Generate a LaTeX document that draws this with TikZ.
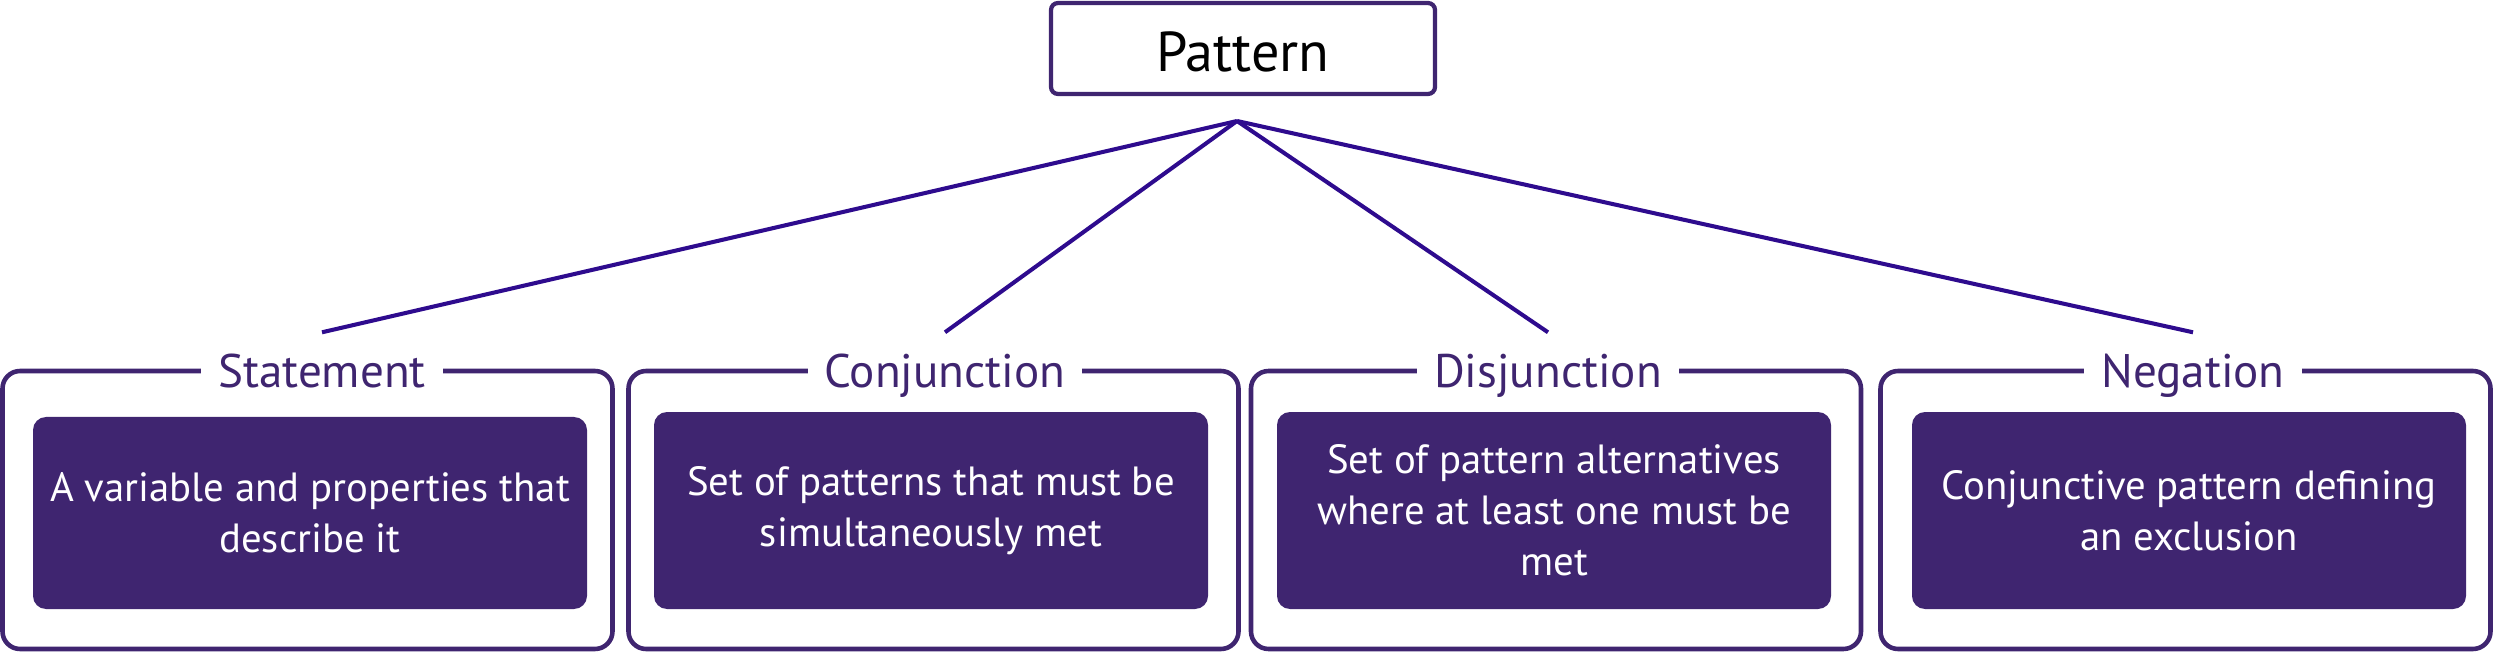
\documentclass[tikz,border=0pt]{standalone}
\usepackage{fontspec}
\setmainfont{PT Sans}
\usepackage{tikz}
\usetikzlibrary{positioning}
\definecolor{boxPurple}{HTML}{3F2570}
\definecolor{linkPurple}{HTML}{2E0B8E}
\tikzset{
  root/.style = {rectangle, draw=boxPurple, line width=1.2pt, rounded corners=2pt, minimum width=3.84cm, minimum height=0.91cm, inner sep=0pt, fill=white, text height=0.47cm, text depth=0pt, font=\fontsize{16}{19}\selectfont},
  catbox/.style = {rectangle, draw=boxPurple, line width=1.3pt, rounded corners=5pt, minimum width=6.10cm, minimum height=2.78cm, inner sep=0pt},
  catcaption/.style = {rectangle, fill=white, inner xsep=0.17cm, inner ysep=0pt, minimum height=0.76cm, text height=0.33cm, text depth=0pt, text=boxPurple, font=\fontsize{13.4}{15}\selectfont},
  catcard/.style = {rectangle, fill=boxPurple, rounded corners=3.7pt, minimum width=5.54cm, minimum height=1.97cm, inner sep=0pt, text=white, align=center, font=\fontsize{11.6}{14.5}\selectfont},
  link/.style = {draw=linkPurple, line width=1.15pt},
}

\begin{document}
\begin{tikzpicture}[x=1cm,y=1cm]
  \useasboundingbox (0,0) rectangle (24.96,6.52);

  \node[root] (pattern) at (12.43, 6.035) {Pattern};
  \coordinate (apex) at (12.37, 5.31);

  \foreach \boxid/\boxlabel/\boxx/\labelx in {
    stmt/Statement/3.075/3.22,
    conj/Conjunction/9.335/9.45,
    disj/Disjunction/15.56/15.48,
    neg/Negation/21.855/21.93
  }{
    \node[catbox] (\boxid) at (\boxx, 1.42) {};
    \node[catcaption] (\boxid-title) at (\labelx, 2.81) {\boxlabel};
    \draw[link] (apex) -- (\boxid-title.north);
  }

  \node[catcard, minimum height=1.92cm] (stmt-card) at (3.10, 1.39) {A variable and properties that\\describe it};
  \node[catcard] (conj-card) at (9.31, 1.415) {Set of patterns that must be\\simultaneously met};
  \node[catcard] (disj-card) at (15.54, 1.415) {Set of pattern alternatives\\where at least one must be\\met};
  \node[catcard] (neg-card) at (21.89, 1.415) {Conjunctive pattern defining\\an exclusion};
\end{tikzpicture}
\end{document}
